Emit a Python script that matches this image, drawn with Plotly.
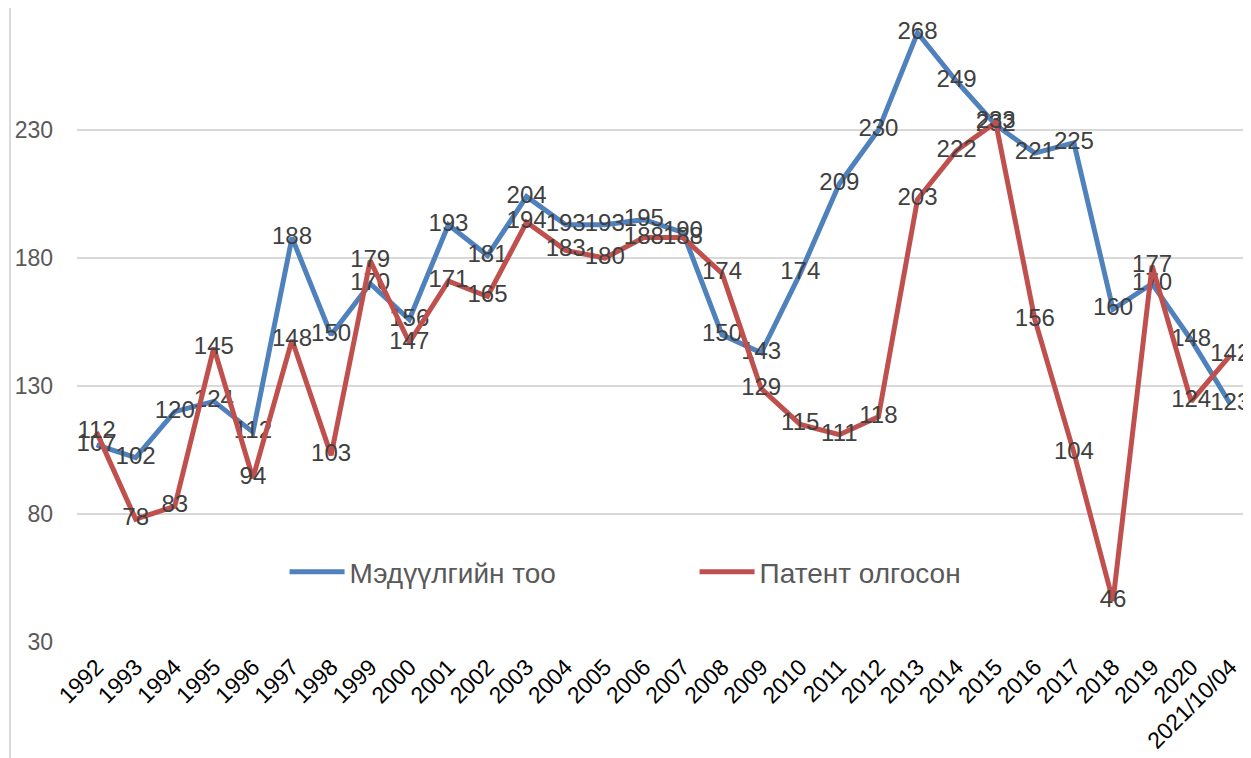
import plotly.graph_objects as go

years = ["1992", "1993", "1994", "1995", "1996", "1997", "1998", "1999", "2000", "2001",
         "2002", "2003", "2004", "2005", "2006", "2007", "2008", "2009", "2010", "2011",
         "2012", "2013", "2014", "2015", "2016", "2017", "2018", "2019", "2020", "2021/10/04"]
applications = [107, 102, 120, 124, 112, 188, 150, 170, 156, 193,
                181, 204, 193, 193, 195, 190, 150, 143, 174, 209,
                230, 268, 249, 232, 221, 225, 160, 170, 148, 123]
patents = [112, 78, 83, 145, 94, 148, 103, 179, 147, 171,
           165, 194, 183, 180, 188, 188, 174, 129, 115, 111,
           118, 203, 222, 233, 156, 104, 46, 177, 124, 142]
series_names = ["Мэдүүлгийн тоо", "Патент олгосон"]
y_ticks = [30, 80, 130, 180, 230]

FONT = "Liberation Sans, Arial, sans-serif"
x = list(range(len(years)))

# page body has an 8px default margin; the figure is sized to compensate
W, H, L, B = 1243, 750, 69, 116
PW, PH = W - L, H - B

fig = go.Figure()
for name, vals, color in [(series_names[0], applications, "#4F81BD"),
                          (series_names[1], patents, "#C0504D")]:
    fig.add_trace(go.Scatter(
        x=x, y=vals, name=name, mode="lines+text",
        line=dict(color=color, width=5),
        text=[str(v) for v in vals], textposition="middle center",
        textfont=dict(family=FONT, size=24, color="#404040"),
        cliponaxis=False,
    ))

fig.update_layout(
    width=W, height=H,
    margin=dict(l=L, r=0, t=0, b=B),
    paper_bgcolor="white", plot_bgcolor="white",
    font=dict(family=FONT, color="#595959"),
    showlegend=True,
    legend=dict(orientation="h", x=0.1768, y=(634 - 564) / PH, xanchor="left", yanchor="middle",
                font=dict(family=FONT, size=28, color="#595959"),
                entrywidth=340, entrywidthmode="pixels",
                bgcolor="rgba(0,0,0,0)", itemwidth=55),
    xaxis=dict(range=[-0.5, 29.53], tickmode="array", tickvals=x, ticktext=years,
               tickangle=-45, tickfont=dict(family=FONT, size=23, color="#000000"),
               showgrid=False, zeroline=False, showline=False, ticks="",
               ticklabelstandoff=6, automargin=False),
    yaxis=dict(range=[30, 277.7], tickmode="array", tickvals=y_ticks,
               tickfont=dict(family=FONT, size=23, color="#595959"),
               showgrid=True, gridcolor="#D9D9D9", gridwidth=2, zeroline=False,
               showline=False, ticks="", ticklen=0, ticklabelstandoff=23, automargin=False),
)
fig.add_shape(type="line", xref="paper", yref="paper",
              x0=(2 - L) / PW, x1=(2 - L) / PW, y0=-B / PH, y1=1,
              line=dict(color="#D9D9D9", width=2))

fig.write_html("out.html")
